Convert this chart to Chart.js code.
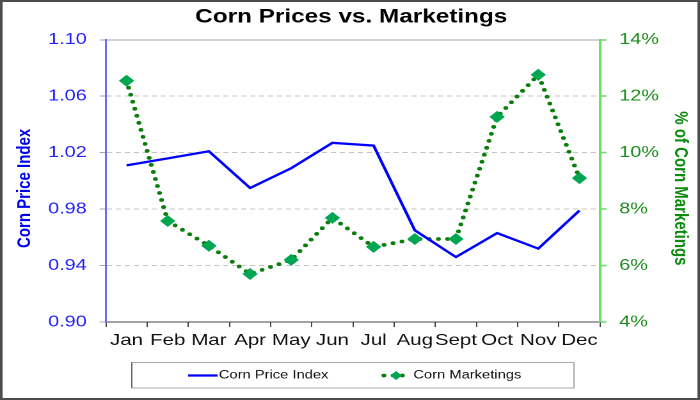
<!DOCTYPE html>
<html>
<head>
<meta charset="utf-8">
<title>Corn Prices vs. Marketings</title>
<script src="https://cdn.jsdelivr.net/npm/chart.js@4.4.1/dist/chart.umd.min.js"></script>
<style>
  html, body { margin: 0; padding: 0; background: #fff; }
  #cornChart { display: block; }
</style>
</head>
<body>
<!-- the original picture is stretched sideways, so the canvas is too -->
<canvas id="cornChart" width="547" height="400" style="width:700px;height:400px"></canvas>
<script>
// Data for the chart
const months = ['Jan', 'Feb', 'Mar', 'Apr', 'May', 'Jun', 'Jul', 'Aug', 'Sept', 'Oct', 'Nov', 'Dec'];
const priceIndex = [1.011, 1.016, 1.021, 0.995, 1.009, 1.027, 1.025, 0.965, 0.946, 0.963, 0.952, 0.979];
const marketings = [12.55, 7.58, 6.70, 5.70, 6.20, 7.69, 6.66, 6.94, 6.94, 11.27, 12.76, 9.10]; // % of year
const priceTicks = [0.90, 0.94, 0.98, 1.02, 1.06, 1.10];
const marketingTicks = [4, 6, 8, 10, 12, 14];

const FONT = "'Liberation Sans', Arial, sans-serif";
Chart.defaults.font.family = FONT;

// outer frame, rotated axis titles and the boxed legend
const decorations = {
  id: 'decorations',
  afterDraw(chart) {
    const ctx = chart.ctx;
    const [price, mkt] = chart.data.datasets;
    const mid = (chart.chartArea.top + chart.chartArea.bottom) / 2 + 7.5;
    ctx.save();

    ctx.strokeStyle = '#4d4d4d';
    ctx.lineWidth = 2;
    ctx.strokeRect(1, 1, chart.width - 2, chart.height - 2);

    ctx.font = 'bold 15px ' + FONT;
    ctx.textAlign = 'center';
    ctx.textBaseline = 'middle';
    ctx.save();
    ctx.translate(19.5, mid);
    ctx.rotate(-Math.PI / 2);
    ctx.fillStyle = '#0000ee';
    ctx.fillText('Corn Price Index', 0, 0);
    ctx.restore();
    ctx.save();
    ctx.translate(531.4, mid);
    ctx.rotate(Math.PI / 2);
    ctx.fillStyle = '#0b8a0b';
    ctx.fillText('% of Corn Marketings', 0, 0);
    ctx.restore();

    // legend
    const ly = 375.5;
    ctx.lineWidth = 1;
    ctx.strokeStyle = '#a8a8a8';
    ctx.strokeRect(103, 362.5, 345.5, 25.5);
    ctx.strokeStyle = '#666';
    ctx.beginPath();
    ctx.moveTo(103, 362.5);
    ctx.lineTo(103, 388);
    ctx.stroke();

    ctx.strokeStyle = price.borderColor;
    ctx.lineWidth = price.borderWidth;
    ctx.beginPath();
    ctx.moveTo(147, ly);
    ctx.lineTo(170, ly);
    ctx.stroke();

    ctx.strokeStyle = mkt.borderColor;
    ctx.lineWidth = mkt.borderWidth;
    ctx.lineCap = 'round';
    ctx.setLineDash(mkt.borderDash);
    ctx.beginPath();
    ctx.moveTo(300, ly);
    ctx.lineTo(318, ly);
    ctx.stroke();
    ctx.setLineDash([]);
    ctx.fillStyle = mkt.pointBackgroundColor;
    ctx.beginPath();
    ctx.moveTo(305, ly);
    ctx.lineTo(309.5, ly - 4.5);
    ctx.lineTo(314, ly);
    ctx.lineTo(309.5, ly + 4.5);
    ctx.closePath();
    ctx.fill();

    ctx.font = '11.5px ' + FONT;
    ctx.fillStyle = '#111';
    ctx.textAlign = 'left';
    ctx.fillText(price.label, 171, ly);
    ctx.fillText(mkt.label, 323, ly);
    ctx.restore();
  }
};

window.onload = function () {
  const ctx = document.getElementById('cornChart').getContext('2d');

  new Chart(ctx, {
    type: 'line',
    data: {
      labels: months,
      datasets: [{
        label: 'Corn Price Index',
        data: priceIndex,
        yAxisID: 'y',
        borderColor: '#0000ff',
        borderWidth: 2.3,
        pointRadius: 0,
        tension: 0
      }, {
        label: 'Corn Marketings',
        data: marketings,
        yAxisID: 'y1',
        borderColor: '#0a7d0a',
        borderWidth: 3.8,
        borderDash: [0, 7.2],
        borderCapStyle: 'round',
        pointStyle: 'rectRot',
        pointRadius: 6,
        pointBorderWidth: 0,
        pointBackgroundColor: '#00a651',
        tension: 0
      }]
    },
    options: {
      responsive: false,
      devicePixelRatio: 2,
      animation: false,
      events: [],
      layout: {
        padding: { left: 4, right: 2, top: 0, bottom: 50 }
      },
      plugins: {
        legend: { display: false },
        tooltip: { enabled: false },
        title: {
          display: true,
          text: 'Corn Prices vs. Marketings',
          color: '#000',
          font: { size: 19, weight: 'bold' },
          padding: { top: 6, bottom: 11 }
        }
      },
      scales: {
        x: {
          offset: true,
          grid: {
            offset: true,
            drawOnChartArea: false,
            tickLength: 5,
            tickColor: '#444'
          },
          border: { color: '#444', width: 1 },
          ticks: { color: '#111', font: { size: 16 }, padding: 4, maxRotation: 0, autoSkip: false },
          afterFit: axis => { axis.height = 28; }
        },
        y: {
          position: 'left',
          min: 0.90,
          max: 1.10,
          afterBuildTicks: axis => { axis.ticks = priceTicks.map(v => ({ value: v })); },
          afterFit: axis => { axis.width = 78.8; },
          grid: {
            color: c => c.index === 0 ? 'rgba(0,0,0,0)' : (c.index === priceTicks.length - 1 ? '#a6a6a6' : '#c4c4c4'),
            tickColor: '#a6a6a6',
            tickLength: 5
          },
          border: {
            color: '#6b6bff',
            width: 1.5,
            dash: c => c.index === priceTicks.length - 1 ? [] : [4, 3]
          },
          ticks: {
            color: '#2222ff',
            font: { size: 15.5 },
            padding: 10,
            callback: v => v.toFixed(2)
          }
        },
        y1: {
          position: 'right',
          min: 4,
          max: 14,
          afterBuildTicks: axis => { axis.ticks = marketingTicks.map(v => ({ value: v })); },
          afterFit: axis => { axis.width = 76.1; },
          grid: {
            drawOnChartArea: false,
            tickColor: '#66dd66',
            tickWidth: 1.5,
            tickLength: 5
          },
          border: { color: '#66e066', width: 2 },
          ticks: {
            color: '#1e8c1e',
            font: { size: 15.5 },
            padding: 10,
            callback: v => v + '%'
          }
        }
      }
    },
    plugins: [decorations]
  });
};
</script>
</body>
</html>
